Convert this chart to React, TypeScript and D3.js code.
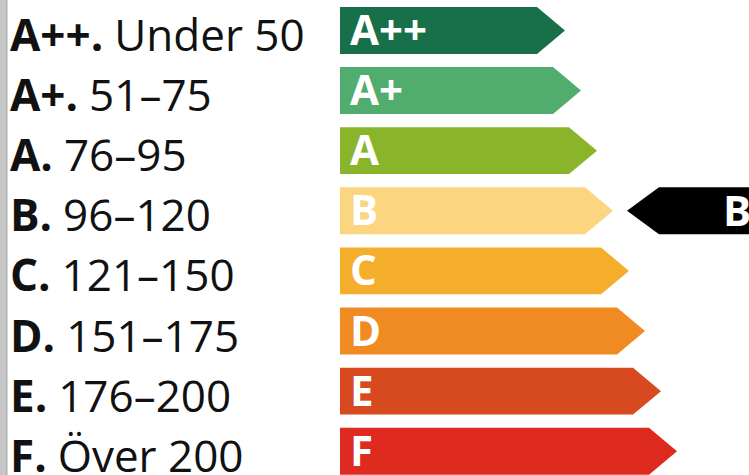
import React, { useMemo } from 'react';
import * as d3 from 'd3';

const W = 749;
const H = 475;

// energy classes, top to bottom
const classes = ['A++', 'A+', 'A', 'B', 'C', 'D', 'E', 'F'];
const ranges = ['Under 50', '51–75', '76–95', '96–120', '121–150', '151–175', '176–200', 'Över 200'];
const barRank = [1, 2, 3, 4, 5, 6, 7, 8];
const colors = ['#18704a', '#50ad6d', '#8ab52b', '#fcd580', '#f5ae2b', '#ef8b22', '#d7491e', '#df2a20'];
const current = 'B';

const App: React.FC = () => {
  const y = useMemo(
    () => d3.scaleBand<string>().domain(classes).range([7, 474.7]).paddingInner(0.22).paddingOuter(0),
    []
  );
  // tip position of each arrow
  const x = useMemo(() => d3.scaleLinear().domain([1, 8]).range([565, 677]), []);

  const barLeft = 340;
  const tipDepth = 28;
  const bh = y.bandwidth();

  const arrowPath = (tip: number, top: number) => {
    const p = d3.path();
    p.moveTo(barLeft, top);
    p.lineTo(tip - tipDepth, top);
    p.lineTo(tip, top + bh / 2);
    p.lineTo(tip - tipDepth, top + bh);
    p.lineTo(barLeft, top + bh);
    p.closePath();
    return p.toString();
  };

  const curTop = y(current) ?? 0;
  const markerTip = 627;
  const marker = d3.path();
  marker.moveTo(markerTip, curTop + bh / 2);
  marker.lineTo(markerTip + 32, curTop);
  marker.lineTo(W + 2, curTop);
  marker.lineTo(W + 2, curTop + bh);
  marker.lineTo(markerTip + 32, curTop + bh);
  marker.closePath();

  return (
    <svg
      width={W}
      height={H}
      style={{ position: 'absolute', left: 0, top: 0, background: '#fff', display: 'block' }}
    >
      <rect x={0} y={0} width={7} height={H} fill="#c6c6c6" />
      <rect x={6} y={0} width={1.5} height={H} fill="#b0b0b0" />

      {classes.map((c, i) => {
        const top = y(c) ?? 0;
        return (
          <g key={c}>
            <text
              x={10}
              y={top + 44}
              fontFamily="'Open Sans', sans-serif"
              fontSize={44}
              fill="#111"
            >
              <tspan fontWeight={700}>{c + '.'}</tspan>
              <tspan dx={11}>{ranges[i]}</tspan>
            </text>
            <path d={arrowPath(x(barRank[i]), top)} fill={colors[i]} />
            <text
              x={350}
              y={top + 38}
              fontFamily="'Open Sans', sans-serif"
              fontWeight={700}
              fontSize={42}
              fill="#fff"
            >
              {c}
            </text>
          </g>
        );
      })}

      <path d={marker.toString()} fill="#000" />
      <text
        x={723}
        y={curTop + 39}
        fontFamily="'Open Sans', sans-serif"
        fontWeight={700}
        fontSize={42}
        fill="#fff"
      >
        {current}
      </text>
    </svg>
  );
};

export default App;
